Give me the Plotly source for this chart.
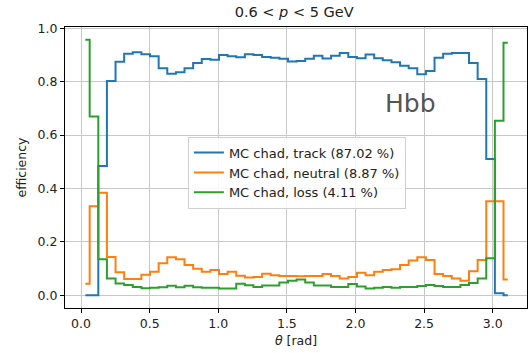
import numpy as np
import plotly.graph_objects as go

n_bins = 50
theta_centers = [(i + 0.5) * np.pi / n_bins for i in range(n_bins)]

track = [0.0, 0.0, 0.484, 0.803, 0.875, 0.905, 0.910, 0.903, 0.895, 0.850,
         0.830, 0.835, 0.850, 0.870, 0.885, 0.882, 0.900, 0.895, 0.892, 0.903,
         0.900, 0.893, 0.890, 0.886, 0.876, 0.878, 0.886, 0.897, 0.887, 0.897,
         0.908, 0.893, 0.888, 0.902, 0.888, 0.880, 0.873, 0.860, 0.850, 0.828,
         0.840, 0.890, 0.905, 0.908, 0.908, 0.870, 0.810, 0.510, 0.007, 0.0]

neutral = [0.043, 0.333, 0.384, 0.143, 0.086, 0.061, 0.061, 0.077, 0.088, 0.120,
           0.142, 0.135, 0.113, 0.099, 0.088, 0.094, 0.079, 0.088, 0.073, 0.066,
           0.068, 0.080, 0.075, 0.072, 0.072, 0.071, 0.072, 0.072, 0.079, 0.072,
           0.063, 0.068, 0.084, 0.075, 0.088, 0.094, 0.097, 0.113, 0.130, 0.142,
           0.132, 0.079, 0.072, 0.063, 0.054, 0.090, 0.132, 0.352, 0.352, 0.059]

loss = [0.957, 0.670, 0.135, 0.063, 0.044, 0.038, 0.031, 0.026, 0.028, 0.030,
        0.035, 0.030, 0.035, 0.030, 0.028, 0.028, 0.025, 0.025, 0.043, 0.037,
        0.031, 0.036, 0.036, 0.048, 0.054, 0.059, 0.048, 0.036, 0.036, 0.031,
        0.031, 0.042, 0.033, 0.025, 0.028, 0.031, 0.028, 0.031, 0.031, 0.034,
        0.038, 0.034, 0.031, 0.031, 0.038, 0.046, 0.063, 0.138, 0.654, 0.946]

series_names = ["MC chad, track (87.02 %)",
                "MC chad, neutral (8.87 %)",
                "MC chad, loss (4.11 %)"]
series_colors = ["#1f77b4", "#ff7f0e", "#2ca02c"]
x_ticks = [0.0, 0.5, 1.0, 1.5, 2.0, 2.5, 3.0]
y_ticks = [0.0, 0.2, 0.4, 0.6, 0.8, 1.0]

FONT = "DejaVu Sans"

fig = go.Figure()
for vals, name, col in zip([track, neutral, loss], series_names, series_colors):
    fig.add_trace(go.Scatter(x=theta_centers, y=vals, mode="lines", name=name,
                             line=dict(color=col, width=2, shape="hvh")))

axis_common = dict(showline=True, linecolor="black", linewidth=1, mirror=True,
                   ticks="outside", ticklen=4, tickcolor="black", tickwidth=1,
                   showgrid=True, gridcolor="#c8c8c8", gridwidth=1,
                   zeroline=False, tickfont=dict(family=FONT, size=12.5, color="#222"))

fig.update_xaxes(range=[-0.117, 3.25], tickvals=x_ticks, tickformat=".1f",
                 title=dict(text="<i>θ</i> [rad]", font=dict(family=FONT, size=12.5, color="#222"),
                            standoff=6),
                 **axis_common)
fig.update_yaxes(range=[-0.048, 1.005], tickvals=y_ticks, tickformat=".1f",
                 title=dict(text="efficiency", font=dict(family=FONT, size=12.5, color="#222"),
                            standoff=8),
                 **axis_common)

fig.add_annotation(x=2.4, y=0.72, xref="x", yref="y", text="Hbb", showarrow=False,
                   font=dict(family=FONT, size=25, color="#555555"),
                   xanchor="center", yanchor="middle")

fig.update_layout(
    width=530, height=353,
    margin=dict(l=65, r=3, t=27, b=45),
    plot_bgcolor="white", paper_bgcolor="white",
    title=dict(text="0.6 &lt; <i>p</i> &lt; 5 GeV", x=0.555, xanchor="center",
               y=0.965, yanchor="middle", font=dict(family=FONT, size=14.5, color="#222")),
    legend=dict(x=0.266, y=0.61, xanchor="left", yanchor="top",
                bgcolor="rgba(255,255,255,0.85)", bordercolor="#d0d0d0", borderwidth=1,
                font=dict(family=FONT, size=13, color="#222"), itemwidth=30,
                tracegroupgap=0),
    showlegend=True,
)

fig.write_html("out.html")
